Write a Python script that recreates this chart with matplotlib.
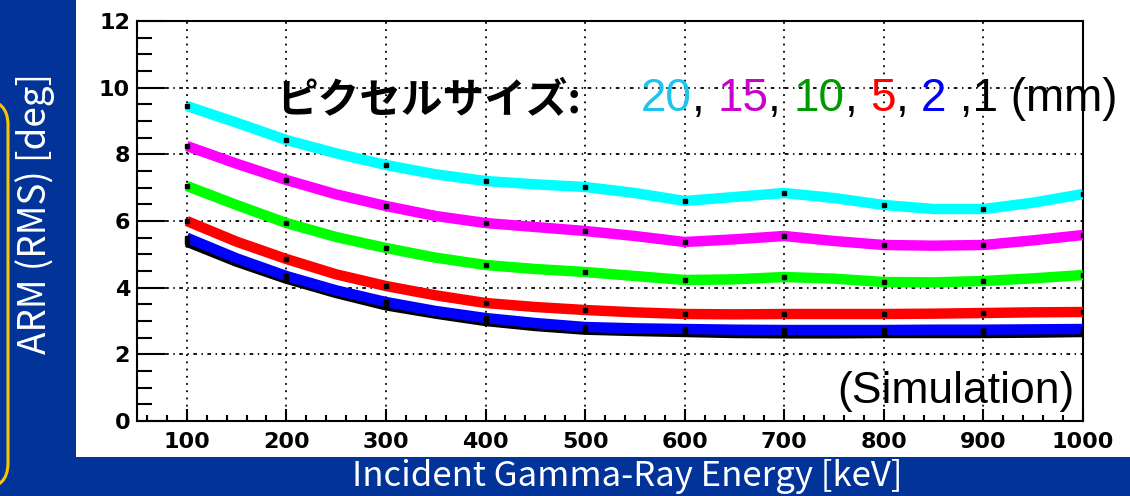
import numpy as np
import matplotlib.pyplot as plt
from matplotlib.patches import Rectangle, FancyBboxPatch

# ARM (RMS) vs incident energy (every 50 keV)
energy = [100, 150, 200, 250, 300, 350, 400, 450, 500, 550,
          600, 650, 700, 750, 800, 850, 900, 950, 1000]
arm_20mm = [9.45, 8.95, 8.43, 8.03, 7.68, 7.40, 7.20, 7.10, 7.02, 6.84,
            6.60, 6.72, 6.84, 6.69, 6.48, 6.36, 6.36, 6.55, 6.81]
arm_15mm = [8.25, 7.72, 7.23, 6.80, 6.45, 6.15, 5.94, 5.82, 5.70, 5.55,
            5.37, 5.45, 5.55, 5.40, 5.28, 5.26, 5.28, 5.42, 5.58]
arm_10mm = [7.05, 6.48, 5.94, 5.52, 5.19, 4.90, 4.68, 4.56, 4.47, 4.35,
            4.23, 4.25, 4.32, 4.27, 4.17, 4.16, 4.20, 4.28, 4.38]
arm_5mm = [6.00, 5.38, 4.86, 4.40, 4.05, 3.77, 3.54, 3.42, 3.33, 3.26,
           3.21, 3.20, 3.21, 3.21, 3.21, 3.22, 3.24, 3.26, 3.27]
arm_2mm = [5.50, 4.88, 4.35, 3.92, 3.57, 3.30, 3.09, 2.94, 2.82, 2.78,
           2.76, 2.74, 2.73, 2.73, 2.73, 2.74, 2.74, 2.75, 2.76]
arm_1mm = [5.38, 4.78, 4.27, 3.84, 3.47, 3.22, 3.00, 2.85, 2.74, 2.70,
           2.67, 2.64, 2.63, 2.63, 2.64, 2.64, 2.64, 2.65, 2.67]

series = [
    (arm_1mm, 'black'),
    (arm_2mm, '#0000ff'),
    (arm_5mm, '#ff0000'),
    (arm_10mm, '#00ff00'),
    (arm_15mm, '#ff00ff'),
    (arm_20mm, '#00ffff'),
]

title_pieces = [('20', '#1ec3ef'), (', ', 'black'), ('15', '#cc00cc'), (', ', 'black'),
                ('10', '#009a00'), (', ', 'black'), ('5', '#ff0000'), (', ', 'black'),
                ('2', '#0000ff'), (' ,1 (mm)', 'black')]

W, H = 1130, 496
BLUE = '#023399'
jp = ['Noto Sans CJK JP', 'DejaVu Sans']
arial = ['Liberation Sans', 'DejaVu Sans']

fig = plt.figure(figsize=(W / 100, H / 100), dpi=100, facecolor=BLUE)

# white panel behind the plot
fig.add_artist(Rectangle((76 / W, 1 - 457 / H), 1 - 76 / W, 457 / H,
                         transform=fig.transFigure, fc='white', ec='none', zorder=0))
# yellow rounded frame at the left edge
fig.add_artist(FancyBboxPatch((-0.5, 0.08), 0.58, 3.88,
                              boxstyle='round,pad=0,rounding_size=0.25',
                              transform=fig.dpi_scale_trans, fc='none',
                              ec='#f7c600', lw=2.2, zorder=1))

ax = fig.add_axes([137 / W, 1 - 421 / H, (1083 - 137) / W, 400 / H])
ax.set_facecolor('none')

for vals, col in series:
    ax.plot(energy, vals, color=col, lw=7.5, solid_capstyle='butt',
            solid_joinstyle='round', zorder=3)
    ax.plot(energy[::2], vals[::2], ls='none', marker='s', ms=2.5,
            color='black', zorder=4)

ax.set_xlim(50, 1000)
ax.set_ylim(0, 12)
ax.set_xticks(np.arange(100, 1001, 100))
ax.set_xticks(np.arange(60, 1000, 20), minor=True)
ax.set_yticks(np.arange(0, 13, 2))
ax.set_yticks(np.arange(0, 12.1, 0.5), minor=True)

ax.tick_params(which='both', direction='in', width=1.5, color='black')
ax.tick_params(axis='y', which='major', length=20, pad=5)
ax.tick_params(axis='y', which='minor', length=11)
ax.tick_params(axis='x', which='major', length=9, pad=8)
ax.tick_params(axis='x', which='minor', length=4.5)
for lab in ax.get_xticklabels() + ax.get_yticklabels():
    lab.set_fontfamily('DejaVu Sans')
    lab.set_fontweight('bold')
    lab.set_fontsize(16)

for sp in ax.spines.values():
    sp.set_linewidth(1.5)

ax.grid(axis='x', which='major', color='black', lw=1.3, ls=(0, (1, 3)), zorder=1)
ax.grid(axis='y', which='major', color='black', lw=1.3, ls=(0, (2, 2.5, 0.8, 2.5)), zorder=1)

# title inside the plot
ax.text(190, 9.24, 'ピクセルサイズ:', fontfamily=jp,
        fontsize=30, fontweight='bold', va='baseline', color='black', zorder=5)
t = ax.text(556, 9.3, title_pieces[0][0], color=title_pieces[0][1],
            fontfamily=arial, fontsize=33, va='baseline', zorder=5)
for txt, col in title_pieces[1:]:
    t = ax.annotate(txt, xy=(1, 0), xycoords=t, va='bottom', ha='left',
                    color=col, fontfamily=arial, fontsize=33, zorder=5)

ax.text(991, 0.55, '(Simulation)', fontfamily=arial,
        fontsize=32, ha='right', va='baseline', color='black', zorder=5)

# axis titles on the blue slide background
fig.text(35 / W, 1 - 213 / H, 'ARM (RMS) [deg]', rotation=90, color='white',
         fontfamily=jp, fontsize=26.5, ha='center', va='center')
fig.text(627 / W, 1 - 476 / H, 'Incident Gamma-Ray Energy [keV]', color='white',
         fontfamily=jp, fontsize=25, ha='center', va='center')

fig.savefig('out.png', dpi=100, facecolor=BLUE)
